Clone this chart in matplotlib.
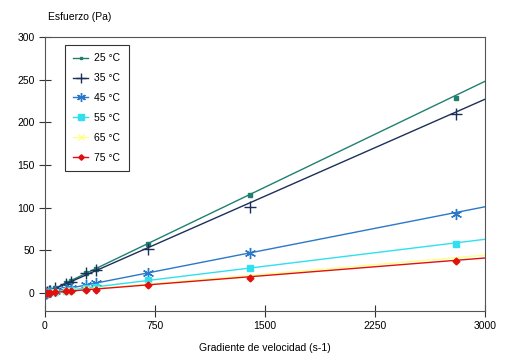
import matplotlib
matplotlib.use("Agg")
import matplotlib.pyplot as plt
import numpy as np

plt.rcParams['font.family'] = ['Liberation Sans', 'DejaVu Sans']

shear = [7, 14, 28, 35, 70, 140, 175, 280, 350, 700, 1400, 2800]
labels = ["25 °C", "35 °C", "45 °C", "55 °C", "65 °C", "75 °C"]
s25 = [0.6, 1.2, 2.5, 3, 6, 12, 14, 24, 28, 57, 115, 228]
s35 = [0.5, 1.0, 2.2, 2.8, 5.5, 11, 13, 23, 27, 52, 101, 210]
s45 = [0.3, 0.5, 1.0, 1.2, 2.5, 5, 6, 10, 12, 23, 47, 93]
s55 = [0.2, 0.4, 0.7, 0.8, 1.5, 3, 4, 6, 7, 15, 29, 58]
s65 = [0.1, 0.3, 0.5, 0.6, 1.1, 2.2, 2.8, 4.2, 5, 10, 19, 39]
s75 = [0.1, 0.2, 0.4, 0.5, 1.0, 2.0, 2.5, 3.5, 4, 9, 18, 37]
fit_slope = [0.0827, 0.0757, 0.0337, 0.0210, 0.0148, 0.0137]
fit_icpt = [0, 0, 0, 0, 0, 0]
series = [s25, s35, s45, s55, s65, s75]
colors = ["#1f8070", "#1c2f5a", "#2a78c8", "#30e0f0", "#ffff88", "#e01010"]
markers = ["s", "+", (6, 2, 0), "s", "x", "D"]
msizes = [2.5, 9, 8, 5, 5, 3.5]

fig = plt.figure(figsize=(5.12, 3.59), dpi=100)
ax = fig.add_axes([45/512, 1-311/359, 440/512, 274/359])
xfit = np.array([0, 3000])
for y, lab, c, m, ms, sl, ic in zip(series, labels, colors, markers, msizes, fit_slope, fit_icpt):
    ax.plot(xfit, sl*xfit+ic, color=c, lw=1.0)
    ax.plot(shear, y, ls='none', marker=m, color=c, ms=ms, mew=1.0)
    ax.plot([], [], color=c, marker=m, ms=ms*0.8, mew=1.0, lw=1.0, label=lab)

ax.set_xlim(0, 3000)
ax.set_ylim(-21, 300)
ax.set_xticks([0, 750, 1500, 2250, 3000])
ax.set_yticks([0, 50, 100, 150, 200, 250, 300])
ax.tick_params(direction='inout', length=8, width=0.8, labelsize=7.5, colors='#333333', labelcolor='black')
for sp in ax.spines.values():
    sp.set_color('#555555')
    sp.set_linewidth(0.8)
ax.set_xlabel("Gradiente de velocidad (s-1)", fontsize=7.5, labelpad=8)
fig.text(48/512, 1-17/359, "Esfuerzo (Pa)", fontsize=7.5, va='center', ha='left')
leg = ax.legend(loc='upper left', bbox_to_anchor=(20/440, 1-8/274), borderaxespad=0,
                fontsize=7.5, frameon=True, fancybox=False, edgecolor='black',
                handlelength=1.4, handletextpad=0.6, labelspacing=0.95, borderpad=0.8)
leg.get_frame().set_linewidth(0.8)
fig.savefig("out.png", dpi=100)
